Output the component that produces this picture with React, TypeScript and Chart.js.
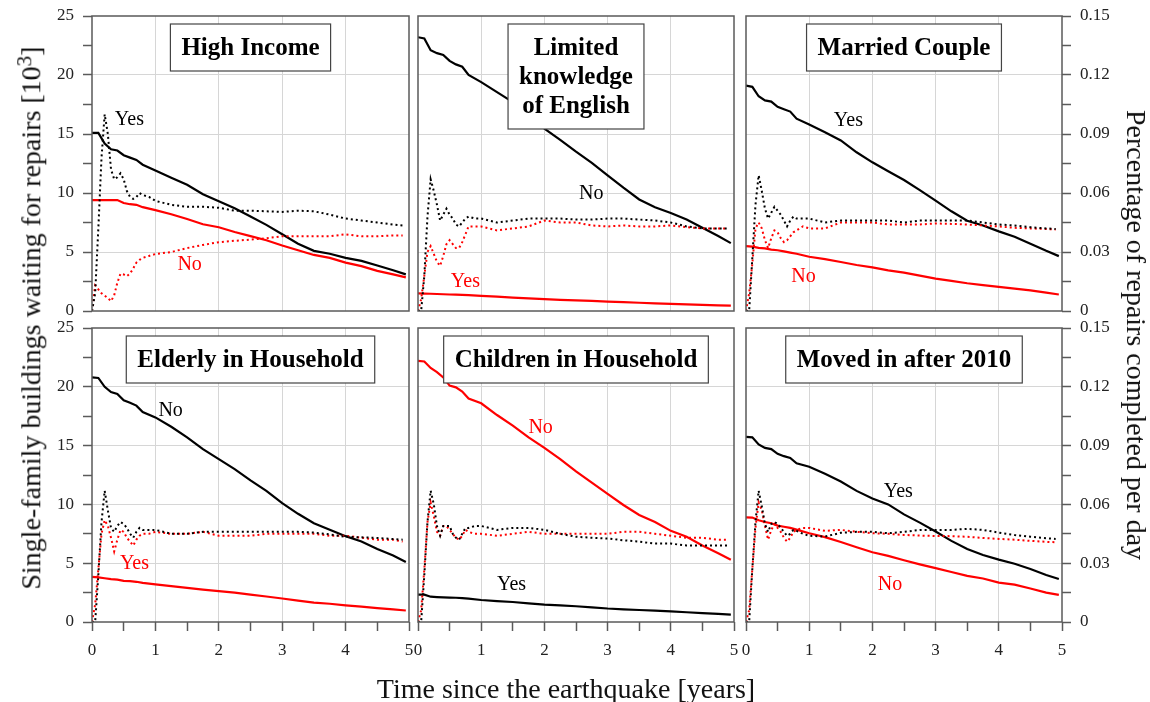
import React, { useEffect, useRef } from "react";
import { Chart, registerables } from "chart.js";

Chart.register(...registerables);

// ---------- shared x grids (years since the earthquake) ----------
const X_SOLID = [0, 0.1, 0.2, 0.3, 0.4, 0.5, 0.6, 0.7, 0.8, 1.0, 1.25, 1.5, 1.75, 2.0, 2.25, 2.5, 2.75, 3.0, 3.25, 3.5, 3.75, 4.0, 4.25, 4.5, 4.75, 4.95];
const X_DOT = [0, 0.05, 0.1, 0.15, 0.2, 0.25, 0.3, 0.35, 0.4, 0.45, 0.5, 0.55, 0.6, 0.65, 0.7, 0.75, 0.8, 0.9, 1.0, 1.25, 1.5, 1.75, 2.0, 2.25, 2.5, 2.75, 3.0, 3.25, 3.5, 3.75, 4.0, 4.25, 4.5, 4.75, 4.9];

// ---------- tick labels ----------
const X_TICK_LABELS = ["0", "1", "2", "3", "4", "5"];
const Y_LEFT_LABELS = ["0", "5", "10", "15", "20", "25"];
const Y_RIGHT_LABELS = ["0", "0.03", "0.06", "0.09", "0.12", "0.15"];

// ---------- High Income ----------
const HI_YES_WAIT = [15.1, 15.1, 14.2, 13.7, 13.6, 13.2, 13.0, 12.8, 12.4, 11.9, 11.3, 10.7, 9.9, 9.3, 8.7, 8.0, 7.3, 6.5, 5.7, 5.1, 4.85, 4.5, 4.25, 3.85, 3.45, 3.1];
const HI_NO_WAIT = [9.4, 9.4, 9.4, 9.4, 9.4, 9.15, 9.05, 9.0, 8.8, 8.55, 8.2, 7.8, 7.35, 7.1, 6.7, 6.35, 6.0, 5.55, 5.15, 4.75, 4.5, 4.1, 3.8, 3.4, 3.1, 2.85];
const HI_YES_RATE = [0, 0.009, 0.042, 0.078, 0.1, 0.09, 0.072, 0.067, 0.068, 0.07, 0.067, 0.061, 0.058, 0.057, 0.058, 0.06, 0.059, 0.058, 0.056, 0.054, 0.053, 0.053, 0.0525, 0.051, 0.051, 0.0507, 0.0504, 0.051, 0.0507, 0.049, 0.047, 0.046, 0.045, 0.044, 0.0435];
const HI_NO_RATE = [0, 0.013, 0.011, 0.009, 0.0078, 0.0066, 0.005, 0.008, 0.0144, 0.019, 0.0186, 0.0177, 0.019, 0.0216, 0.0246, 0.026, 0.027, 0.028, 0.029, 0.03, 0.032, 0.0336, 0.035, 0.0357, 0.0363, 0.037, 0.038, 0.038, 0.038, 0.038, 0.039, 0.038, 0.038, 0.0384, 0.0384];

// ---------- Limited knowledge of English ----------
const LE_NO_WAIT = [23.2, 23.1, 22.1, 21.85, 21.7, 21.2, 20.9, 20.7, 20.0, 19.4, 18.55, 17.7, 16.6, 15.45, 14.5, 13.5, 12.55, 11.5, 10.45, 9.45, 8.8, 8.3, 7.75, 7.05, 6.35, 5.75];
const LE_YES_WAIT = [1.5, 1.48, 1.46, 1.44, 1.42, 1.4, 1.38, 1.36, 1.34, 1.28, 1.21, 1.14, 1.07, 1.0, 0.95, 0.9, 0.85, 0.8, 0.75, 0.7, 0.65, 0.6, 0.56, 0.52, 0.48, 0.45];
const LE_NO_RATE = [0, 0, 0.018, 0.048, 0.067, 0.061, 0.054, 0.046, 0.049, 0.052, 0.049, 0.047, 0.044, 0.043, 0.045, 0.047, 0.048, 0.047, 0.047, 0.045, 0.046, 0.047, 0.047, 0.047, 0.0465, 0.0465, 0.047, 0.047, 0.0465, 0.046, 0.045, 0.043, 0.042, 0.042, 0.042];
const LE_YES_RATE = [0, 0.006, 0.018, 0.03, 0.033, 0.029, 0.025, 0.023, 0.028, 0.034, 0.036, 0.034, 0.032, 0.032, 0.035, 0.039, 0.043, 0.043, 0.043, 0.041, 0.042, 0.043, 0.046, 0.045, 0.045, 0.0435, 0.043, 0.0435, 0.043, 0.043, 0.0435, 0.0426, 0.042, 0.042, 0.042];

// ---------- Married Couple ----------
const MC_YES_WAIT = [19.1, 19.0, 18.2, 17.85, 17.75, 17.3, 17.1, 16.9, 16.3, 15.8, 15.15, 14.45, 13.45, 12.6, 11.85, 11.1, 10.25, 9.35, 8.45, 7.65, 7.25, 6.75, 6.3, 5.7, 5.1, 4.65];
const MC_NO_WAIT = [5.5, 5.45, 5.35, 5.3, 5.2, 5.15, 5.05, 4.95, 4.85, 4.6, 4.4, 4.15, 3.9, 3.7, 3.45, 3.25, 3.0, 2.75, 2.55, 2.35, 2.2, 2.05, 1.9, 1.75, 1.55, 1.4];
const MC_YES_RATE = [0, 0, 0.027, 0.054, 0.069, 0.061, 0.052, 0.047, 0.05, 0.053, 0.051, 0.049, 0.046, 0.043, 0.046, 0.048, 0.047, 0.047, 0.047, 0.045, 0.046, 0.046, 0.046, 0.046, 0.045, 0.046, 0.046, 0.046, 0.046, 0.045, 0.044, 0.0435, 0.0426, 0.042, 0.0417];
const MC_NO_RATE = [0, 0.009, 0.024, 0.042, 0.045, 0.042, 0.036, 0.032, 0.037, 0.041, 0.04, 0.037, 0.035, 0.036, 0.038, 0.04, 0.041, 0.043, 0.042, 0.042, 0.045, 0.045, 0.045, 0.044, 0.044, 0.044, 0.0445, 0.0443, 0.044, 0.0435, 0.043, 0.0423, 0.042, 0.0417, 0.0414];

// ---------- Elderly in Household ----------
const EL_NO_WAIT = [20.8, 20.75, 20.0, 19.55, 19.4, 18.85, 18.65, 18.4, 17.85, 17.4, 16.6, 15.7, 14.7, 13.85, 13.0, 12.05, 11.15, 10.1, 9.2, 8.4, 7.85, 7.3, 6.85, 6.2, 5.65, 5.1];
const EL_YES_WAIT = [3.84, 3.8, 3.72, 3.65, 3.6, 3.5, 3.47, 3.42, 3.33, 3.2, 3.05, 2.9, 2.75, 2.62, 2.5, 2.33, 2.17, 2.0, 1.82, 1.64, 1.55, 1.42, 1.3, 1.18, 1.08, 0.98];
const EL_NO_RATE = [0, 0, 0.024, 0.051, 0.067, 0.057, 0.048, 0.046, 0.049, 0.051, 0.05, 0.048, 0.045, 0.043, 0.046, 0.048, 0.047, 0.047, 0.047, 0.045, 0.045, 0.046, 0.046, 0.046, 0.046, 0.046, 0.046, 0.046, 0.0456, 0.0447, 0.0435, 0.0432, 0.0429, 0.0423, 0.042];
const EL_YES_RATE = [0, 0.009, 0.027, 0.045, 0.052, 0.049, 0.043, 0.036, 0.042, 0.047, 0.046, 0.043, 0.041, 0.039, 0.042, 0.044, 0.045, 0.045, 0.046, 0.045, 0.045, 0.046, 0.044, 0.044, 0.044, 0.045, 0.045, 0.045, 0.045, 0.044, 0.044, 0.043, 0.042, 0.042, 0.041];

// ---------- Children in Household ----------
const CH_NO_WAIT = [22.2, 22.15, 21.6, 21.25, 20.8, 20.1, 19.95, 19.6, 19.0, 18.6, 17.6, 16.7, 15.7, 14.8, 13.85, 12.8, 11.85, 10.9, 9.95, 9.1, 8.5, 7.75, 7.25, 6.5, 5.85, 5.3];
const CH_YES_WAIT = [2.33, 2.32, 2.15, 2.12, 2.1, 2.08, 2.06, 2.03, 1.98, 1.87, 1.78, 1.7, 1.58, 1.48, 1.42, 1.34, 1.25, 1.15, 1.08, 1.02, 0.97, 0.9, 0.83, 0.76, 0.69, 0.63];
const CH_YES_RATE = [0, 0, 0.024, 0.051, 0.067, 0.06, 0.049, 0.044, 0.049, 0.049, 0.049, 0.045, 0.043, 0.042, 0.045, 0.048, 0.048, 0.049, 0.049, 0.047, 0.048, 0.048, 0.047, 0.045, 0.0435, 0.043, 0.0426, 0.0417, 0.041, 0.04, 0.04, 0.039, 0.039, 0.039, 0.039];
const CH_NO_RATE = [0, 0.006, 0.027, 0.051, 0.061, 0.054, 0.046, 0.044, 0.049, 0.049, 0.047, 0.045, 0.043, 0.042, 0.044, 0.047, 0.046, 0.045, 0.045, 0.044, 0.045, 0.046, 0.045, 0.045, 0.045, 0.045, 0.045, 0.046, 0.046, 0.045, 0.044, 0.043, 0.043, 0.042, 0.042];

// ---------- Moved in after 2010 ----------
const MV_YES_WAIT = [15.75, 15.7, 15.1, 14.8, 14.7, 14.3, 14.1, 13.95, 13.5, 13.2, 12.6, 11.95, 11.15, 10.5, 10.0, 9.15, 8.45, 7.7, 6.9, 6.2, 5.7, 5.3, 4.95, 4.5, 4.0, 3.65];
const MV_NO_WAIT = [8.9, 8.88, 8.65, 8.5, 8.4, 8.2, 8.1, 8.0, 7.85, 7.55, 7.22, 6.8, 6.35, 5.93, 5.62, 5.25, 4.9, 4.58, 4.25, 3.92, 3.7, 3.35, 3.18, 2.85, 2.5, 2.3];
const MV_YES_RATE = [0, 0, 0.027, 0.051, 0.067, 0.059, 0.05, 0.046, 0.05, 0.051, 0.05, 0.048, 0.046, 0.044, 0.045, 0.047, 0.0465, 0.045, 0.044, 0.0436, 0.0455, 0.046, 0.046, 0.0453, 0.046, 0.047, 0.047, 0.047, 0.0475, 0.047, 0.0456, 0.0444, 0.0435, 0.0427, 0.0424];
const MV_NO_RATE = [0, 0.006, 0.027, 0.048, 0.061, 0.057, 0.049, 0.042, 0.047, 0.05, 0.048, 0.046, 0.043, 0.041, 0.043, 0.046, 0.047, 0.048, 0.048, 0.0465, 0.047, 0.046, 0.0453, 0.045, 0.0444, 0.0441, 0.0439, 0.0438, 0.0435, 0.0429, 0.0424, 0.042, 0.0414, 0.0409, 0.0407];

// ---------- styling ----------
const FONT = '"Liberation Serif", "Times New Roman", serif';
const BLACK = "#000000";
const RED = "#ff0000";
const GRID = "#d6d6d6";
const AXIS = "#5a5a5a";
const TRANSPARENT = "rgba(0,0,0,0)";

type Series = { wait: number[]; rate: number[]; color: string };
type Label = { text: string; x: number; y: number; color: string };
type PanelCfg = { title: string[]; series: Series[]; labels: Label[] };

const PANELS: PanelCfg[] = [
  {
    title: ["High Income"],
    series: [
      { wait: HI_YES_WAIT, rate: HI_YES_RATE, color: BLACK },
      { wait: HI_NO_WAIT, rate: HI_NO_RATE, color: RED },
    ],
    labels: [
      { text: "Yes", x: 0.59, y: 16.2, color: BLACK },
      { text: "No", x: 1.54, y: 3.9, color: RED },
    ],
  },
  {
    title: ["Limited", "knowledge", "of English"],
    series: [
      { wait: LE_NO_WAIT, rate: LE_NO_RATE, color: BLACK },
      { wait: LE_YES_WAIT, rate: LE_YES_RATE, color: RED },
    ],
    labels: [
      { text: "No", x: 2.74, y: 9.97, color: BLACK },
      { text: "Yes", x: 0.75, y: 2.5, color: RED },
    ],
  },
  {
    title: ["Married Couple"],
    series: [
      { wait: MC_YES_WAIT, rate: MC_YES_RATE, color: BLACK },
      { wait: MC_NO_WAIT, rate: MC_NO_RATE, color: RED },
    ],
    labels: [
      { text: "Yes", x: 1.62, y: 16.1, color: BLACK },
      { text: "No", x: 0.91, y: 2.9, color: RED },
    ],
  },
  {
    title: ["Elderly in Household"],
    series: [
      { wait: EL_NO_WAIT, rate: EL_NO_RATE, color: BLACK },
      { wait: EL_YES_WAIT, rate: EL_YES_RATE, color: RED },
    ],
    labels: [
      { text: "No", x: 1.24, y: 17.95, color: BLACK },
      { text: "Yes", x: 0.67, y: 4.97, color: RED },
    ],
  },
  {
    title: ["Children in Household"],
    series: [
      { wait: CH_YES_WAIT, rate: CH_YES_RATE, color: BLACK },
      { wait: CH_NO_WAIT, rate: CH_NO_RATE, color: RED },
    ],
    labels: [
      { text: "No", x: 1.94, y: 16.5, color: RED },
      { text: "Yes", x: 1.48, y: 3.2, color: BLACK },
    ],
  },
  {
    title: ["Moved in after 2010"],
    series: [
      { wait: MV_YES_WAIT, rate: MV_YES_RATE, color: BLACK },
      { wait: MV_NO_WAIT, rate: MV_NO_RATE, color: RED },
    ],
    labels: [
      { text: "Yes", x: 2.41, y: 11.05, color: BLACK },
      { text: "No", x: 2.28, y: 3.13, color: RED },
    ],
  },
];

// ---------- layout ----------
const PLOT_LEFT = [92, 418, 746];
const PLOT_RIGHT = [409, 734, 1062];
const PLOT_TOP = [16, 328];
const PLOT_BOTTOM = [311, 622];
const PAD_L = 16;
const PAD_R = 16;
const PAD_T = 22;
const LEFT_AXIS_W = 54;
const RIGHT_AXIS_W = 60;
const X_AXIS_H = 50;

function geometry(col: number, row: number) {
  const wl = col === 0 ? LEFT_AXIS_W : 0;
  const wr = col === 2 ? RIGHT_AXIS_W : 0;
  const hx = row === 1 ? X_AXIS_H : 0;
  const padB = row === 0 ? 22 : 4;
  const left = PLOT_LEFT[col] - wl - PAD_L;
  const width = PLOT_RIGHT[col] - PLOT_LEFT[col] + wl + wr + PAD_L + PAD_R;
  const top = PLOT_TOP[row] - PAD_T;
  const height = PLOT_BOTTOM[row] - PLOT_TOP[row] + PAD_T + padB + hx;
  return { left, top, width, height, padB };
}

function makeDecor(p: PanelCfg) {
  return {
    id: "decor",
    afterDatasetsDraw(chart: any) {
      const { ctx, chartArea: a, scales } = chart;
      ctx.save();
      // frame
      ctx.strokeStyle = AXIS;
      ctx.lineWidth = 1.5;
      ctx.strokeRect(a.left, a.top, a.right - a.left, a.bottom - a.top);
      // Yes / No labels at data coordinates
      ctx.font = `20px ${FONT}`;
      ctx.textAlign = "center";
      ctx.textBaseline = "middle";
      for (const l of p.labels) {
        ctx.fillStyle = l.color;
        ctx.fillText(l.text, scales.x.getPixelForValue(l.x), scales.y.getPixelForValue(l.y));
      }
      // title box
      ctx.font = `bold 25px ${FONT}`;
      const w = Math.max(...p.title.map((t) => ctx.measureText(t).width)) + 22;
      const h = 47 + 29 * (p.title.length - 1);
      const cx = (a.left + a.right) / 2;
      const top = a.top + 8;
      ctx.fillStyle = "#ffffff";
      ctx.fillRect(cx - w / 2, top, w, h);
      ctx.strokeStyle = "#444444";
      ctx.lineWidth = 1.2;
      ctx.strokeRect(cx - w / 2, top, w, h);
      ctx.fillStyle = "#000000";
      ctx.textBaseline = "alphabetic";
      p.title.forEach((t, i) => ctx.fillText(t, cx, top + 31 + 29 * i));
      ctx.restore();
    },
  };
}

function buildConfig(p: PanelCfg, col: number, row: number): any {
  const leftAxis = col === 0;
  const rightAxis = col === 2;
  const bottomAxis = row === 1;
  const g = geometry(col, row);
  const datasets: any[] = [];
  p.series.forEach((s) => {
    datasets.push({
      data: X_DOT.map((x, i) => ({ x, y: s.rate[i] })),
      yAxisID: "y2",
      borderColor: s.color,
      borderWidth: 2,
      borderDash: [2, 3],
      pointRadius: 0,
      fill: false,
      tension: 0,
    });
  });
  p.series.forEach((s) => {
    datasets.push({
      data: X_SOLID.map((x, i) => ({ x, y: s.wait[i] })),
      yAxisID: "y",
      borderColor: s.color,
      borderWidth: 2.2,
      pointRadius: 0,
      fill: false,
      tension: 0,
    });
  });
  const tickFont = { family: FONT, size: 17 };
  return {
    type: "line",
    data: { datasets },
    plugins: [makeDecor(p)],
    options: {
      animation: false,
      responsive: false,
      devicePixelRatio: 1,
      events: [],
      layout: { padding: { left: PAD_L, right: PAD_R, top: PAD_T, bottom: g.padB } },
      plugins: { legend: { display: false }, tooltip: { enabled: false }, title: { display: false } },
      scales: {
        x: {
          type: "linear",
          min: 0,
          max: 5,
          border: { display: false },
          afterFit: (s: any) => {
            s.height = bottomAxis ? X_AXIS_H : 0;
          },
          grid: {
            color: (c: any) => {
              const v = c.tick.value;
              return Number.isInteger(v) && v > 0 && v < 5 ? GRID : TRANSPARENT;
            },
            lineWidth: 1,
            drawTicks: bottomAxis,
            tickLength: 9,
            tickColor: AXIS,
            tickWidth: 1.5,
          },
          ticks: {
            display: bottomAxis,
            stepSize: 0.5,
            autoSkip: false,
            maxRotation: 0,
            padding: 9,
            color: "#222222",
            font: tickFont,
            callback: (v: number) => (Number.isInteger(v) ? X_TICK_LABELS[v] : ""),
          },
        },
        y: {
          type: "linear",
          position: "left",
          min: 0,
          max: 25,
          border: { display: false },
          afterFit: (s: any) => {
            s.width = leftAxis ? LEFT_AXIS_W : 0;
          },
          grid: {
            color: (c: any) => {
              const v = c.tick.value;
              return v % 5 === 0 && v > 0 && v < 25 ? GRID : TRANSPARENT;
            },
            lineWidth: 1,
            drawTicks: leftAxis,
            tickLength: 9,
            tickColor: AXIS,
            tickWidth: 1.5,
          },
          ticks: {
            display: leftAxis,
            stepSize: 2.5,
            autoSkip: false,
            padding: 9,
            color: "#222222",
            font: tickFont,
            callback: (v: number) => (v % 5 === 0 ? Y_LEFT_LABELS[Math.round(v / 5)] : ""),
          },
        },
        y2: {
          type: "linear",
          position: "right",
          display: rightAxis,
          min: 0,
          max: 0.15,
          border: { display: false },
          afterFit: (s: any) => {
            s.width = rightAxis ? RIGHT_AXIS_W : 0;
          },
          grid: {
            drawOnChartArea: false,
            drawTicks: true,
            tickLength: 9,
            tickColor: AXIS,
            tickWidth: 1.5,
          },
          ticks: {
            stepSize: 0.015,
            autoSkip: false,
            padding: 9,
            color: "#222222",
            font: tickFont,
            callback: (v: number) => {
              const k = Math.round(v / 0.015);
              return k % 2 === 0 ? Y_RIGHT_LABELS[k / 2] : "";
            },
          },
        },
      },
    },
  };
}

function Panel({ cfg, col, row }: { cfg: PanelCfg; col: number; row: number }) {
  const ref = useRef<HTMLCanvasElement>(null);
  const g = geometry(col, row);
  useEffect(() => {
    if (!ref.current) return;
    const chart = new Chart(ref.current, buildConfig(cfg, col, row));
    return () => chart.destroy();
  }, [cfg, col, row]);
  return (
    <canvas
      ref={ref}
      width={g.width}
      height={g.height}
      style={{ position: "absolute", left: g.left, top: g.top, width: g.width, height: g.height }}
    />
  );
}

const titleStyle: React.CSSProperties = {
  position: "absolute",
  fontFamily: FONT,
  fontSize: 28,
  lineHeight: 1,
  whiteSpace: "nowrap",
  color: "#111",
};

export default function App() {
  return (
    <div style={{ position: "absolute", left: 0, top: 0, width: 1150, height: 702, background: "#fff", overflow: "hidden" }}>
      {PANELS.map((p, i) => (
        <Panel key={i} cfg={p} col={i % 3} row={Math.floor(i / 3)} />
      ))}
      <div style={{ ...titleStyle, left: 30, top: 318, transform: "translate(-50%, -50%) rotate(-90deg)" }}>
        Single-family buildings waiting for repairs [10
        <span style={{ fontSize: "0.75em", verticalAlign: "0.45em" }}>3</span>]
      </div>
      <div style={{ ...titleStyle, left: 1136, top: 335, transform: "translate(-50%, -50%) rotate(90deg)" }}>
        Percentage of repairs completed per day
      </div>
      <div style={{ ...titleStyle, left: 566, top: 689, transform: "translate(-50%, -50%)" }}>
        Time since the earthquake [years]
      </div>
    </div>
  );
}
